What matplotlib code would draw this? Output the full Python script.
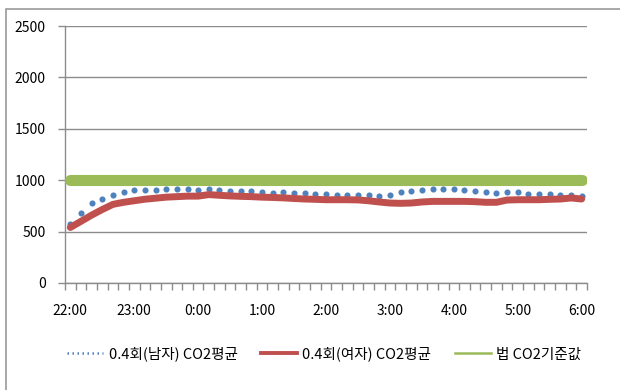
import matplotlib
matplotlib.use('Agg')
import matplotlib.pyplot as plt
from matplotlib.lines import Line2D
from matplotlib.patches import Rectangle
import numpy as np

# 10-minute readings 22:00 .. 6:00
times = ['22:00', '23:00', '0:00', '1:00', '2:00', '3:00', '4:00', '5:00', '6:00']
male = [576, 685, 774, 816, 860, 889, 905, 905, 902, 919, 919, 919,
        902, 918, 908, 896, 896, 896, 882, 876, 882, 876, 872, 869,
        862, 853, 853, 853, 853, 847, 860, 882, 892, 905, 918, 918,
        918, 902, 899, 889, 879, 882, 882, 869, 869, 863, 853, 856, 845]
female = [540, 600, 660, 715, 765, 785, 800, 815, 825, 835, 840, 845,
          845, 860, 853, 847, 843, 840, 835, 832, 828, 822, 817, 814,
          810, 810, 810, 808, 800, 788, 778, 775, 778, 788, 794, 794,
          794, 794, 791, 785, 785, 807, 810, 810, 810, 814, 817, 827, 817]
limit = [1000] * 49

labels = ['0.4회(남자) CO2평균', '0.4회(여자) CO2평균', '법 CO2기준값']
blue = '#4f81bd'
red = '#c0504d'
green = '#9bbb59'
grid = '#8c8c8c'

plt.rcParams['font.family'] = ['Noto Sans CJK KR', 'DejaVu Sans']
plt.rcParams['font.size'] = 10

fig = plt.figure(figsize=(6.2, 3.9), dpi=100)
# outer chart border (runs off the picture on the right and bottom)
fig.patches.append(Rectangle((6/620, -0.1), 2, 1.1 - 9/390, transform=fig.transFigure,
                             fill=False, edgecolor='#9a9a9a', linewidth=1.2))
ax = fig.add_axes([65/620, 1-283/390, 522/620, 257/390])

x = np.arange(len(male))
ax.plot(x, male, linestyle='none', marker='o', markersize=4.4, color=blue,
        markeredgewidth=0, zorder=3)
ax.plot(x, female, color=red, linewidth=5, solid_capstyle='round',
        solid_joinstyle='round', zorder=4)
ax.plot(x, limit, color=green, linewidth=8, solid_capstyle='round', zorder=5)

ax.set_xlim(-0.5, len(male) - 0.5)
ax.set_ylim(0, 2500)
ax.set_yticks(np.arange(0, 2501, 500))
ax.yaxis.grid(True, color=grid, linewidth=1)
ax.set_axisbelow(True)

ax.set_xticks(np.arange(0, len(male), 6))
ax.set_xticklabels(times)
ax.set_xticks(np.arange(-0.5, len(male), 1), minor=True)
ax.tick_params(axis='x', which='major', length=0, pad=15, labelsize=10)
ax.tick_params(axis='x', which='minor', length=5, color=grid, width=1)
ax.tick_params(axis='y', length=5, color=grid, width=1, pad=9, labelsize=10)

for s in ['top', 'right']:
    ax.spines[s].set_visible(False)
for s in ['left', 'bottom']:
    ax.spines[s].set_color(grid)
    ax.spines[s].set_linewidth(1)

handles = [Line2D([], [], color=blue, linestyle=(0, (0.6, 1.4)), linewidth=1.8),
           Line2D([], [], color=red, linewidth=2.8),
           Line2D([], [], color=green, linewidth=1.8)]
fig.legend(handles, labels, loc='center left', bbox_to_anchor=(67/620, 1-354/390),
           ncol=3, frameon=False, borderpad=0, borderaxespad=0,
           handlelength=2.5, handletextpad=0.35, columnspacing=1.6, fontsize=10.5)

fig.savefig('out.png', dpi=100)
